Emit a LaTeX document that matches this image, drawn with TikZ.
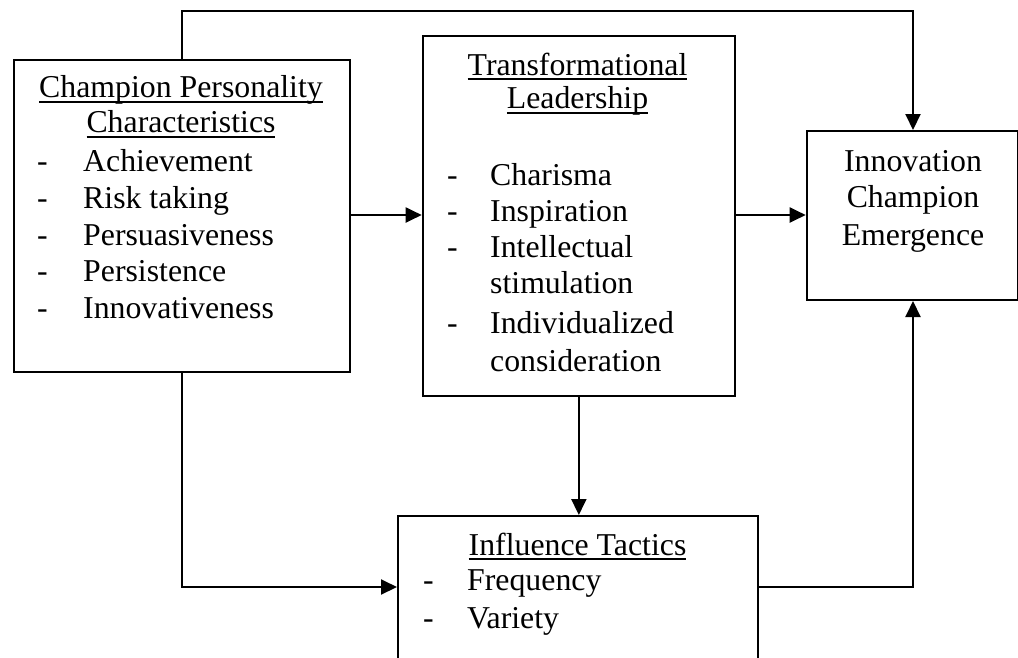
\documentclass[tikz,border=0pt]{standalone}
\usepackage{fontspec}
\setmainfont{Liberation Serif}
\usetikzlibrary{arrows.meta}

% underline at a fixed depth below the baseline, as a word processor sets it
\newcommand\ulword[1]{\leavevmode\setbox0\hbox{#1}\rlap{\rule[-5pt]{\wd0}{1.8pt}}\box0}

\begin{document}
\begin{tikzpicture}[x=1pt, y=-1pt,
  box/.style={draw, line width=2pt, inner sep=0pt, anchor=north west},
  arr/.style={line width=2pt, -{Triangle[length=16pt, width=15pt]}},
  txt/.style={inner sep=0pt, anchor=base west, font=\fontsize{31.8}{36.6}\selectfont},
  ctxt/.style={txt, anchor=base}]

\clip (0,0) rectangle (1018,657);
\fill[white] (0,0) rectangle (1018,657);

% boxes
\node[box, minimum width=336, minimum height=312] (cpc) at (13,59) {};
\node[box, minimum width=312.3, minimum height=360] (tl) at (421.7,35) {};
\node[box, minimum width=211.3, minimum height=169] (ice) at (805.7,130) {};
\node[box, minimum width=360, minimum height=190] (it) at (397,515) {};

% champion personality characteristics
\node[ctxt] (cpc1) at (181,97.5) {\ulword{Champion Personality}};
\node[ctxt] (cpc2) at (181,132.5) {\ulword{Characteristics}};
\node[txt] (cpcd1) at (37,171.7) {-};
\node[txt] (cpci1) at (83,171.7) {Achievement};
\node[txt] (cpcd2) at (37,208) {-};
\node[txt] (cpci2) at (83,208) {Risk taking};
\node[txt] (cpcd3) at (37,245) {-};
\node[txt] (cpci3) at (83,245) {Persuasiveness};
\node[txt] (cpcd4) at (37,281.7) {-};
\node[txt] (cpci4) at (83,281.7) {Persistence};
\node[txt] (cpcd5) at (37,318) {-};
\node[txt] (cpci5) at (83,318) {Innovativeness};

% transformational leadership
\node[ctxt] (tl1) at (577.5,75) {\ulword{Transformational}};
\node[ctxt] (tl2) at (577.5,108.5) {\ulword{Leadership}};
\node[txt] (tld1) at (447,185) {-};
\node[txt] (tli1) at (490,185) {Charisma};
\node[txt] (tld2) at (447,221.7) {-};
\node[txt] (tli2) at (490,221.7) {Inspiration};
\node[txt] (tld3) at (447,257.3) {-};
\node[txt] (tli3) at (490,257.3) {Intellectual};
\node[txt] (tli3b) at (490,293.3) {stimulation};
\node[txt] (tld4) at (447,333.3) {-};
\node[txt] (tli4) at (490,333.3) {Individualized};
\node[txt] (tli4b) at (490,371.7) {consideration};

% innovation champion emergence
\node[ctxt] (ice1) at (913,171.7) {Innovation};
\node[ctxt] (ice2) at (913,207.5) {Champion};
\node[ctxt] (ice3) at (913,245) {Emergence};

% influence tactics
\node[ctxt] (it1) at (577.5,555) {\ulword{Influence Tactics}};
\node[txt] (itd1) at (423,590) {-};
\node[txt] (iti1) at (467,590) {Frequency};
\node[txt] (itd2) at (423,628) {-};
\node[txt] (iti2) at (467,628) {Variety};

% routing points
\coordinate (topbend) at (913,11);
\coordinate (rowA) at (0,215);
\coordinate (rowB) at (0,587);

% connectors
\draw[arr] (cpc.north) -- (cpc.north |- topbend) -- (topbend) -- (topbend |- ice.north);
\draw[arr] (cpc.east |- rowA) -- (tl.west |- rowA);
\draw[arr] (tl.east |- rowA) -- (ice.west |- rowA);
\draw[arr] (tl.south) -- (tl.south |- it.north);
\draw[arr] (cpc.south) -- (cpc.south |- rowB) -- (it.west |- rowB);
\draw[arr] (it.east |- rowB) -- (topbend |- rowB) -- (ice.south -| topbend);

\end{tikzpicture}
\end{document}
